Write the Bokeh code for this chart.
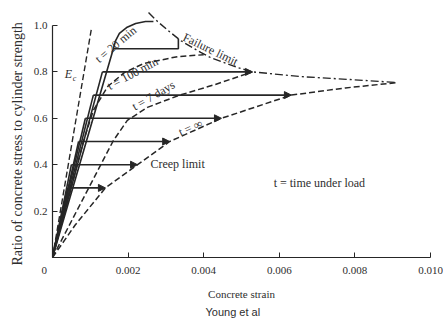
import math
import numpy as np
from bokeh.plotting import figure
from bokeh.models import (Range1d, FixedTicker, NumeralTickFormatter, Arrow,
                          NormalHead, Label, ColumnDataSource, Title)
from bokeh.embed import file_html
from bokeh.resources import INLINE

INK = "#262626"
TXT = "#2e2e2e"
SERIF = "Liberation Serif"
SANS = "Liberation Sans"
NBSP = "\u00a0"

# ---------------- data ----------------
x_ticks = [0.0, 0.002, 0.004, 0.006, 0.008, 0.010]
x_tick_labels = ["0", "0.002", "0.004", "0.006", "0.008", "0.010"]
y_ticks = [0.2, 0.4, 0.6, 0.8, 1.0]

# initial tangent modulus line E_c
ec_strain = [0.0, 0.00103]
ec_ratio = [0.0, 0.987]

# sustained-load paths (load quickly, then hold: creep arrow)
sust_ratio = [0.3, 0.4, 0.5, 0.6, 0.7, 0.8]
sust_load_strain = [0.00040, 0.00050, 0.00069, 0.00087, 0.00108, 0.00132]
sust_final_strain = [0.00140, 0.00225, 0.00310, 0.00447, 0.00632, 0.00529]

# highest load level (ends at failure limit)
top_ratio = 0.9
top_load_strain = 0.00161
top_final_strain = 0.00333

# t = 20 min curve (upper part)
t20_strain = [0.00161, 0.00167, 0.00177, 0.00196, 0.00220, 0.00246, 0.00267]
t20_ratio = [0.900, 0.935, 0.966, 0.991, 1.009, 1.017, 1.017]

# t = 100 min curve
t100_strain = [0.0, 0.00082, 0.00108, 0.00146, 0.00190, 0.00241, 0.00331, 0.00400]
t100_ratio = [0.0, 0.502, 0.634, 0.737, 0.797, 0.836, 0.866, 0.874]

# t = 7 days curve
t7d_strain = [0.0, 0.00161, 0.00198, 0.00251, 0.00333, 0.00431, 0.00529]
t7d_ratio = [0.0, 0.504, 0.591, 0.647, 0.698, 0.746, 0.800]

# t = infinity (creep limit)
tinf_strain = [0.0, 0.00060, 0.00140, 0.00225, 0.00310, 0.00447, 0.00632, 0.00775, 0.00913]
tinf_ratio = [0.0, 0.140, 0.300, 0.400, 0.500, 0.600, 0.700, 0.731, 0.754]

# failure limit
fail_strain = [0.00254, 0.00278, 0.00312, 0.00339, 0.00392, 0.00418, 0.00489,
               0.00529, 0.00656, 0.00788, 0.00913]
fail_ratio = [1.056, 1.017, 0.970, 0.935, 0.884, 0.862, 0.819,
              0.800, 0.780, 0.767, 0.754]

# ---------------- figure ----------------
p = figure(width=443, height=321, output_backend="svg", toolbar_location=None,
           x_range=Range1d(0, 0.010), y_range=Range1d(0, 1.1078),
           min_border_left=52, min_border_right=13, min_border_top=0,
           min_border_bottom=64, title=None)
p.grid.visible = False
p.outline_line_color = None
p.background_fill_color = "white"
p.border_fill_color = "white"

# origin label sits left of the axis corner, as in the original
overrides = dict(zip(x_ticks, x_tick_labels))
overrides[x_ticks[0]] = x_tick_labels[0] + NBSP * 6

p.xaxis.ticker = FixedTicker(ticks=x_ticks)
p.xaxis.major_label_overrides = overrides
p.xaxis.bounds = (x_ticks[0], x_ticks[-1])
p.yaxis.ticker = FixedTicker(ticks=y_ticks)
p.yaxis.formatter = NumeralTickFormatter(format="0.0")
p.yaxis.bounds = (0, y_ticks[-1])

for ax in (p.xaxis[0], p.yaxis[0]):
    ax.major_tick_in = 5
    ax.major_tick_out = 0
    ax.minor_tick_in = 0
    ax.minor_tick_out = 0
    ax.axis_line_color = INK
    ax.axis_line_width = 1.2
    ax.major_tick_line_color = INK
    ax.major_label_text_font = SERIF
    ax.major_label_text_font_size = "11px"
    ax.major_label_text_color = TXT
p.xaxis.major_label_standoff = 6
p.yaxis.major_label_standoff = 5

p.xaxis.axis_label = "Concrete strain"
p.xaxis.axis_label_text_font = SERIF
p.xaxis.axis_label_text_font_size = "11px"
p.xaxis.axis_label_text_font_style = "normal"
p.xaxis.axis_label_text_color = TXT
p.xaxis.axis_label_standoff = 9

p.add_layout(Title(text="Ratio of concrete stress to cylinder strength", align="left",
                   offset=-8, standoff=11, text_font=SERIF, text_font_size="14px",
                   text_font_style="normal", text_color=TXT), "left")
p.add_layout(Title(text="Young et al", align="left", offset=153, standoff=2,
                   text_font=SANS, text_font_size="11px", text_font_style="normal",
                   text_color=TXT), "below")

DASH = "6 3"
LW = 1.6

# E_c
p.line(ec_strain, ec_ratio, line_color=INK, line_width=1.4, line_dash=DASH)
# isochrones
p.line(t100_strain, t100_ratio, line_color=INK, line_width=1.5, line_dash=DASH)
p.line(t7d_strain, t7d_ratio, line_color=INK, line_width=1.5, line_dash=DASH)
p.line(tinf_strain, tinf_ratio, line_color=INK, line_width=1.5, line_dash=DASH)
# failure limit (dash-dot)
p.line(fail_strain, fail_ratio, line_color=INK, line_width=1.4, line_dash="8 3 2 3")
# t = 20 min (solid)
p.line(t20_strain, t20_ratio, line_color=INK, line_width=LW)

# sustained load paths
src = ColumnDataSource(dict(level=sust_ratio, knee=sust_load_strain,
                            final=sust_final_strain, zero=[0.0] * len(sust_ratio)))
p.segment(x0="zero", y0="zero", x1="knee", y1="level", source=src,
          line_color=INK, line_width=LW)
p.add_layout(Arrow(end=NormalHead(size=7, fill_color=INK, line_color=INK, line_width=1),
                   x_start="knee", y_start="level", x_end="final", y_end="level",
                   source=src, line_color=INK, line_width=LW))

top_tick = float(np.interp(top_final_strain, fail_strain, fail_ratio))
p.line([0.0, top_load_strain, top_final_strain, top_final_strain],
       [0.0, top_ratio, top_ratio, top_tick], line_color=INK, line_width=LW)


def lab(text, x, y, angle=0.0, size="12px", align="center", baseline="middle",
        style="normal", font=SERIF):
    p.add_layout(Label(x=x, y=y, text=text, angle=math.radians(angle),
                       text_font=font, text_font_size=size, text_font_style=style,
                       text_color=TXT, text_align=align, text_baseline=baseline))


lab("E", 0.000423, 0.793, size="12px", style="italic")
lab("c", 0.00058, 0.772, size="8px", style="italic")
lab("t = 20 min", 0.00167, 0.918, angle=40, size="12px")
lab("t = 100 min", 0.00212, 0.793, angle=28, size="12px")
lab("t = 7 days", 0.00267, 0.698, angle=30, size="12px")
lab("t = \u221e", 0.00365, 0.560, angle=24, size="12px")
lab("Failure limit", 0.00418, 0.897, angle=-26, size="12px")
lab("Creep limit", 0.00259, 0.401, size="12px", align="left")
lab("t = time under load", 0.00585, 0.319, size="12px", align="left")

open("out.html", "w").write(file_html(p, INLINE))
